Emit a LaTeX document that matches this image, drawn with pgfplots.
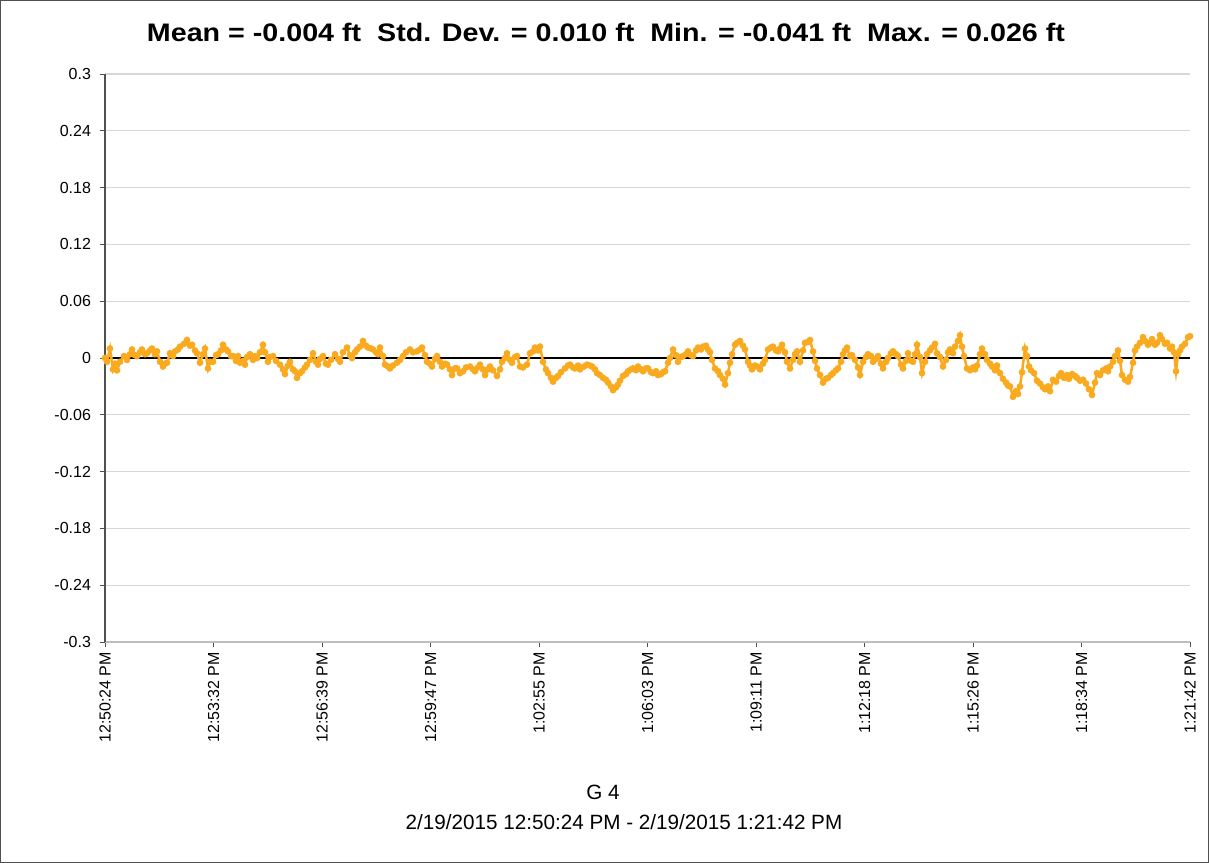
\documentclass[border=0pt]{standalone}
\usepackage{fontspec}
\setmainfont{Liberation Sans}
\usepackage{graphicx}
\usepackage{pgfplots}
\pgfplotsset{compat=1.18}
\definecolor{series}{RGB}{250,170,30}
\definecolor{gridgray}{RGB}{215,215,215}
\definecolor{axisgray}{RGB}{80,80,80}

\begin{document}
\begin{tikzpicture}[x=0.75pt,y=0.75pt]
\useasboundingbox (0,0) rectangle (1209,863);
\draw[axisgray, line width=0.8pt] (0.5,0.5) rectangle (1208.5,862.5);
\begin{axis}[
  at={(78.75pt,165.75pt)}, anchor=south west,
  scale only axis, width=813.75pt, height=426pt,
  xmin=105, xmax=1190, ymin=-0.3, ymax=0.3,
  axis lines*=left,
  x axis line style={gridgray!70!gray, line width=0.8pt},
  y axis line style={axisgray, line width=1.1pt},
  ytick={-0.3,-0.24,...,0.31},
  yticklabels={-0.3,-0.24,-0.18,-0.12,-0.06,0,0.06,0.12,0.18,0.24,0.3},
  xtick={105,213.5,322,430.5,539,647.5,756,864.5,973,1081.5,1190},
  xticklabels={12:50:24 PM,12:53:32 PM,12:56:39 PM,12:59:47 PM,1:02:55 PM,1:06:03 PM,1:09:11 PM,1:12:18 PM,1:15:26 PM,1:18:34 PM,1:21:42 PM},
  x tick label style={rotate=90, anchor=east, font=\fontsize{12}{14}\selectfont},
  y tick label style={font=\fontsize{12}{14}\selectfont, xshift=-3pt},
  tick style={axisgray, line width=0.6pt},
  major tick length=4pt,
  tick align=outside,
  ymajorgrids, major grid style={gridgray, line width=0.8pt},
  /pgf/number format/assume math mode=true,
  clip=false,
]
\addplot[black, line width=1pt, forget plot] coordinates {(105,0) (1190,0)};
\addplot[series, line width=1.9pt, mark=*, mark size=1.5pt, mark options={fill=series, draw=series}] table {
x y
105 0.000
107 -0.004
110 0.010
113 -0.012
115 -0.006
117 -0.013
120 -0.004
124 0.002
127 -0.002
130 0.004
132 0.009
135 0.003
137 0.002
140 0.006
142 0.009
145 0.004
147 0.005
150 0.008
152 0.010
155 0.004
157 0.007
160 -0.004
163 -0.009
165 -0.006
167 -0.005
170 0.005
173 0.002
175 0.007
178 0.009
180 0.012
184 0.015
187 0.019
190 0.013
192 0.014
195 0.008
197 0.005
200 -0.005
203 0.004
205 0.010
208 -0.011
210 -0.004
213 -0.004
216 0.003
218 0.004
221 0.008
223 0.014
226 0.009
228 0.007
231 0.002
233 0.002
236 -0.003
238 0.002
240 -0.005
243 -0.003
245 -0.007
247 0.001
250 0.004
253 -0.002
255 0.002
257 0.000
260 0.006
263 0.014
265 0.006
268 -0.004
270 0.001
273 0.002
276 -0.003
280 -0.007
283 -0.012
285 -0.017
288 -0.008
290 -0.004
293 -0.012
295 -0.014
297 -0.021
300 -0.016
302 -0.014
305 -0.010
307 -0.007
310 -0.002
313 0.005
316 -0.004
318 -0.007
320 -0.001
323 0.002
326 -0.006
328 -0.007
331 -0.002
335 0.004
338 -0.001
340 -0.004
343 0.006
347 0.011
350 0.003
352 0.000
355 0.006
357 0.009
360 0.012
363 0.018
366 0.013
368 0.011
371 0.010
373 0.009
376 0.006
378 0.004
380 0.011
383 0.002
385 -0.007
388 -0.009
390 -0.011
393 -0.008
397 -0.005
400 -0.002
403 0.002
406 0.006
410 0.009
413 0.006
417 0.007
420 0.009
422 0.011
425 0.003
427 -0.004
430 -0.006
432 -0.009
435 -0.001
437 0.002
440 -0.004
442 -0.009
445 -0.006
447 -0.007
450 -0.012
452 -0.018
455 -0.011
457 -0.011
460 -0.016
463 -0.014
466 -0.010
470 -0.009
473 -0.012
475 -0.014
478 -0.010
480 -0.007
483 -0.012
485 -0.018
488 -0.012
490 -0.009
493 -0.013
497 -0.019
500 -0.012
502 -0.004
505 0.000
507 0.005
510 -0.002
512 -0.005
515 0.001
517 0.002
520 -0.009
523 -0.010
527 -0.007
530 0.005
533 0.007
535 0.011
538 0.008
540 0.012
543 -0.004
546 -0.012
548 -0.016
551 -0.021
553 -0.025
556 -0.021
558 -0.019
561 -0.015
565 -0.011
568 -0.008
570 -0.007
573 -0.010
575 -0.011
578 -0.008
580 -0.012
584 -0.009
587 -0.007
590 -0.008
592 -0.009
595 -0.012
597 -0.016
600 -0.018
603 -0.021
606 -0.023
608 -0.026
611 -0.030
613 -0.034
616 -0.031
618 -0.028
620 -0.024
623 -0.019
626 -0.017
628 -0.014
631 -0.012
633 -0.011
636 -0.013
638 -0.009
641 -0.012
643 -0.014
646 -0.011
648 -0.011
651 -0.015
653 -0.016
656 -0.014
658 -0.018
661 -0.017
663 -0.015
665 -0.014
668 -0.005
670 0.000
673 0.009
676 0.003
678 -0.004
681 0.001
683 0.002
686 0.004
688 0.007
691 0.003
693 0.002
696 0.008
698 0.011
701 0.009
703 0.012
706 0.013
708 0.009
710 0.006
712 -0.002
715 -0.011
718 -0.014
720 -0.018
723 -0.022
725 -0.028
728 -0.016
730 -0.005
732 0.004
735 0.014
737 0.016
740 0.018
743 0.013
745 0.009
748 -0.004
750 -0.008
752 -0.012
755 -0.008
757 -0.009
760 -0.012
763 -0.006
765 -0.002
768 0.009
771 0.011
773 0.012
776 0.008
778 0.007
780 0.010
782 0.014
785 0.006
787 -0.004
790 -0.011
793 -0.002
795 0.004
797 0.007
800 -0.004
803 0.008
805 0.016
808 0.017
810 0.019
813 0.007
815 -0.003
817 -0.011
820 -0.018
823 -0.026
826 -0.022
828 -0.021
831 -0.018
833 -0.016
836 -0.013
838 -0.011
841 -0.004
843 0.004
845 0.008
847 0.011
850 0.002
852 0.003
855 -0.002
858 -0.010
860 -0.018
863 -0.004
866 0.001
868 0.004
871 0.002
873 -0.004
876 -0.001
878 0.002
881 -0.006
883 -0.011
886 -0.004
888 0.000
891 0.005
893 0.007
896 0.004
898 0.002
901 -0.007
903 -0.011
906 -0.003
908 0.005
911 -0.003
913 -0.004
915 0.004
917 0.014
920 0.001
922 -0.016
925 -0.004
927 0.004
930 0.008
932 0.011
935 0.015
937 0.005
940 0.001
943 -0.009
946 -0.002
948 0.006
950 0.009
953 0.005
955 0.012
958 0.018
960 0.024
962 0.012
964 0.002
967 -0.011
970 -0.013
973 -0.010
975 -0.012
977 -0.008
980 0.004
982 0.010
985 0.004
987 -0.002
990 -0.006
992 -0.009
995 -0.013
997 -0.008
1000 -0.016
1003 -0.022
1006 -0.026
1008 -0.029
1010 -0.030
1013 -0.041
1016 -0.035
1018 -0.038
1020 -0.030
1022 -0.015
1025 0.010
1027 0.002
1029 -0.009
1031 -0.013
1034 -0.016
1037 -0.024
1040 -0.027
1043 -0.031
1045 -0.033
1048 -0.030
1050 -0.035
1053 -0.023
1056 -0.025
1059 -0.019
1061 -0.016
1064 -0.021
1067 -0.018
1069 -0.022
1072 -0.017
1075 -0.019
1077 -0.021
1080 -0.024
1083 -0.023
1086 -0.027
1089 -0.033
1092 -0.039
1095 -0.026
1097 -0.016
1100 -0.018
1103 -0.013
1106 -0.011
1108 -0.014
1110 -0.009
1113 -0.004
1115 0.002
1118 0.008
1120 -0.003
1122 -0.018
1125 -0.023
1128 -0.025
1130 -0.020
1133 -0.005
1135 0.008
1137 0.012
1140 0.016
1143 0.022
1145 0.018
1148 0.014
1150 0.016
1152 0.020
1155 0.014
1157 0.016
1160 0.024
1162 0.020
1165 0.015
1167 0.016
1170 0.010
1172 0.012
1174 0.006
1176 -0.014
1178 0.004
1180 0.008
1182 0.012
1185 0.015
1188 0.022
1190 0.023
};
\end{axis}
\node at (606,831) {\resizebox{688.5pt}{\height}{\bfseries\fontsize{19}{22}\selectfont Mean = -0.004 ft\ \ Std. Dev. = 0.010 ft\ \ Min. = -0.041 ft\ \ Max. = 0.026 ft}};
\node at (603,71) {\fontsize{15.5}{18}\selectfont G 4};
\node at (624,41) {\fontsize{15.5}{18}\selectfont 2/19/2015 12:50:24 PM - 2/19/2015 1:21:42 PM};
\end{tikzpicture}
\end{document}
